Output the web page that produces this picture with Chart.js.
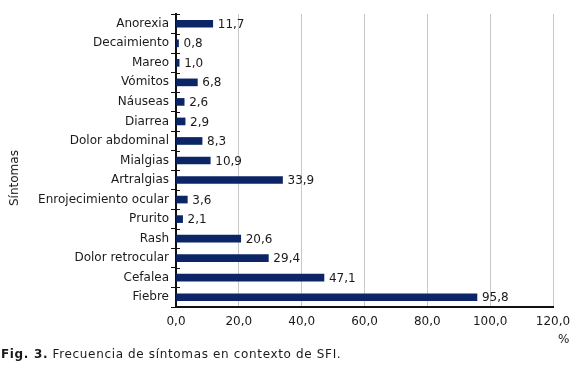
<!DOCTYPE html>
<html>
<head>
<meta charset="utf-8">
<script src="https://cdn.jsdelivr.net/npm/chart.js@4"></script>
<style>
  html, body { margin: 0; padding: 0; background: #fff; }
  #wrap { position: relative; width: 580px; height: 373px; font-family: "DejaVu Sans", Verdana, sans-serif; color: #1a1a1a; }
  #c { position: absolute; left: 0; top: 0; }
  .ytitle { position: absolute; left: 14px; top: 178px; font-size: 12px; line-height: 14px; transform: translate(-50%, -50%) rotate(-90deg); white-space: nowrap; }
  .unit { position: absolute; left: 558px; top: 332px; font-size: 12px; line-height: 14px; }
  .caption { position: absolute; left: 1px; top: 347px; font-size: 12px; line-height: 14px; letter-spacing: 0.65px; white-space: nowrap; }
</style>
</head>
<body>
<div id="wrap">
  <canvas id="c" width="580" height="373"></canvas>
  <div class="ytitle">Síntomas</div>
  <div class="unit">%</div>
  <div class="caption"><b>Fig. 3.</b> Frecuencia de síntomas en contexto de SFI.</div>
</div>
<script>
const categories = ["Anorexia", "Decaimiento", "Mareo", "Vómitos", "Náuseas", "Diarrea", "Dolor abdominal", "Mialgias", "Artralgias", "Enrojecimiento ocular", "Prurito", "Rash", "Dolor retrocular", "Cefalea", "Fiebre"];
const values = [11.7, 0.8, 1.0, 6.8, 2.6, 2.9, 8.3, 10.9, 33.9, 3.6, 2.1, 20.6, 29.4, 47.1, 95.8];
const xTicks = [0, 20, 40, 60, 80, 100, 120];

const fmt = v => Number(v).toFixed(1).replace('.', ',');
const FONT = '"DejaVu Sans", Verdana, sans-serif';

const valueLabels = {
  id: 'valueLabels',
  afterDatasetsDraw(chart) {
    const ctx = chart.ctx;
    const meta = chart.getDatasetMeta(0);
    ctx.save();
    ctx.font = '12px ' + FONT;
    ctx.fillStyle = '#1a1a1a';
    ctx.textAlign = 'left';
    ctx.textBaseline = 'middle';
    meta.data.forEach((bar, i) => {
      ctx.fillText(fmt(values[i]), bar.x + 5, bar.y + 1);
    });
    ctx.restore();
  },
  afterDraw(chart) {
    // inner half of the crossing tick marks on the category axis
    const y = chart.scales.y, x = chart.scales.x;
    const ctx = chart.ctx;
    const x0 = x.getPixelForValue(0);
    ctx.save();
    ctx.strokeStyle = '#111';
    ctx.lineWidth = 1;
    for (let i = 0; i <= categories.length; i++) {
      const py = Math.round(y.getPixelForValue(i - 0.5)) + 0.5;
      ctx.beginPath();
      ctx.moveTo(x0, py);
      ctx.lineTo(x0 + 4, py);
      ctx.stroke();
    }
    ctx.restore();
  }
};

new Chart(document.getElementById('c'), {
  type: 'bar',
  data: {
    labels: categories,
    datasets: [{
      data: values,
      backgroundColor: '#0b2566',
      borderWidth: 0,
      barThickness: 7
    }]
  },
  options: {
    indexAxis: 'y',
    responsive: false,
    animation: false,
    layout: { padding: { left: 0, right: 27, top: 14, bottom: 36 } },
    plugins: { legend: { display: false }, tooltip: { enabled: false } },
    scales: {
      x: {
        min: 0, max: 120,
        afterBuildTicks: s => { s.ticks = xTicks.map(v => ({ value: v })); },
        afterFit: s => { s.height = 30; },
        grid: { color: '#c8c8c8', lineWidth: 1, drawTicks: false },
        border: { color: '#111', width: 2 },
        ticks: {
          padding: 8,
          color: '#1a1a1a',
          font: { family: FONT, size: 12 },
          callback: v => fmt(v)
        }
      },
      y: {
        afterFit: s => { s.width = 176; },
        grid: { offset: true, drawOnChartArea: false, drawTicks: true, tickLength: 5, color: '#111' },
        border: { color: '#111', width: 2 },
        ticks: {
          padding: 2,
          color: '#1a1a1a',
          font: { family: FONT, size: 12 },
          autoSkip: false
        }
      }
    }
  },
  plugins: [valueLabels]
});
</script>
</body>
</html>
